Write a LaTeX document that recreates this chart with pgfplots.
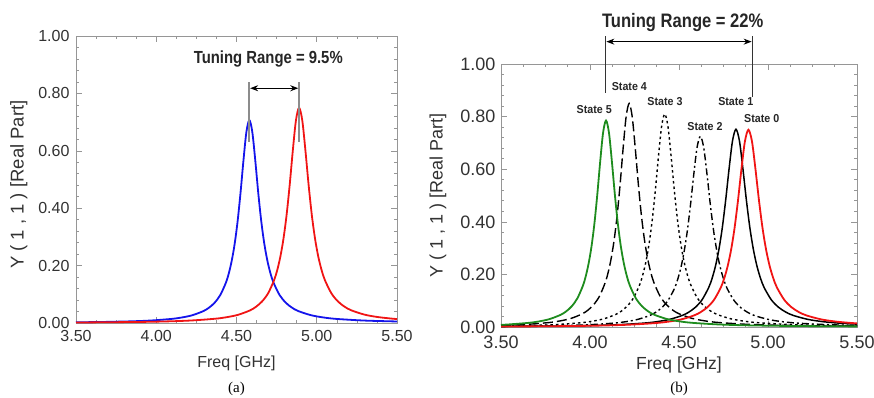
\documentclass[border=0pt]{standalone}
\usepackage{fontspec}
\setmainfont{Liberation Sans}
\newfontfamily\serifcap{Liberation Serif}
\usepackage{graphicx}
\usepackage{pgfplots}
\pgfplotsset{compat=1.18}
\usetikzlibrary{arrows.meta}
\definecolor{cblue}{RGB}{20,20,235}
\definecolor{cred}{RGB}{240,20,20}
\definecolor{cgreen}{RGB}{30,140,30}
\definecolor{framegray}{RGB}{150,150,150}
\definecolor{txtgray}{RGB}{50,50,50}
\tikzset{st/.style={font=\fontsize{11.5}{13}\selectfont\bfseries, text=black!85, inner sep=0pt}}
\pgfplotsset{
 base/.style={scale only axis, xmin=3.5, xmax=5.5, ymin=0, ymax=1,
  xtick={3.5,4,4.5,5,5.5}, ytick={0,0.2,0.4,0.6,0.8,1},
  minor x tick num=3, minor y tick num=4,
  tick align=inside, major tick length=6pt, minor tick length=3pt,
  axis line style={draw=framegray, line width=0.8pt},
  tick style={draw=framegray, line width=0.6pt},
  /pgf/number format/fixed, /pgf/number format/fixed zerofill,
  /pgf/number format/precision=2, /pgf/number format/assume math mode=true,
  ticklabel style={text=txtgray},
  label style={text=txtgray},
  clip=false,
 },
}
\begin{document}
\begin{tikzpicture}
\useasboundingbox (0,0) rectangle (874pt,397pt);
% ---------------- panel (a)
\begin{axis}[base, at={(76pt,74pt)}, anchor=south west, width=321pt, height=287pt,
  yticklabel style={font=\fontsize{16}{16}\selectfont, xshift=-3pt},
  xticklabel style={font=\fontsize{16}{16}\selectfont, yshift=-4pt},
  xlabel={Freq [GHz]}, ylabel={Y ( 1 , 1 ) [Real Part]},
  xlabel style={at={(axis description cs:0.5,0)}, anchor=center, yshift=-40pt, font=\fontsize{16}{16}\selectfont},
  ylabel style={at={(axis description cs:-0.178,0.482)}, anchor=center, font=\fontsize{18.5}{18.5}\selectfont},
]
\addplot[cblue, line width=1.8pt, smooth] coordinates {(3.5,0.0025)(3.6611,0.0036)(3.8390,0.0058)(3.9632,0.0086)(4.0920,0.0141)(4.1582,0.0191)(4.2255,0.0272)(4.2940,0.0416)(4.3287,0.0534)(4.3637,0.0707)(4.3990,0.0975)(4.4346,0.1414)(4.4525,0.1740)(4.4705,0.2175)(4.4886,0.2759)(4.5067,0.3535)(4.5249,0.4525)(4.5432,0.5656)(4.5616,0.6654)(4.58,0.707)(4.5985,0.6654)(4.6171,0.5656)(4.6357,0.4525)(4.6545,0.3535)(4.6733,0.2759)(4.6922,0.2175)(4.7111,0.1740)(4.7301,0.1414)(4.7684,0.0975)(4.8070,0.0707)(4.8458,0.0534)(4.8850,0.0416)(4.9642,0.0272)(5.0446,0.0191)(5.1262,0.0141)(5.2928,0.0086)(5.4641,0.0058)(5.5,0.0054)};
\addplot[cred, line width=1.8pt, smooth] coordinates {(3.5,0.0017)(3.9089,0.0038)(4.0988,0.0061)(4.2314,0.0092)(4.3690,0.015)(4.4396,0.0203)(4.5115,0.0288)(4.5847,0.0441)(4.6217,0.0566)(4.6591,0.075)(4.6968,0.1034)(4.7348,0.15)(4.7539,0.1846)(4.7731,0.2308)(4.7924,0.2927)(4.8118,0.375)(4.8312,0.48)(4.8507,0.6)(4.8703,0.7059)(4.89,0.75)(4.9098,0.7059)(4.9296,0.6)(4.9495,0.48)(4.9695,0.375)(4.9896,0.2927)(5.0097,0.2308)(5.0300,0.1846)(5.0503,0.15)(5.0912,0.1034)(5.1323,0.075)(5.1738,0.0566)(5.2157,0.0441)(5.3002,0.0288)(5.3861,0.0203)(5.4732,0.015)(5.5,0.0138)};
\draw[black!45, line width=1.8pt] (axis cs:4.58,0.632) -- (axis cs:4.58,0.841);
\draw[black!45, line width=1.8pt] (axis cs:4.89,0.632) -- (axis cs:4.89,0.841);
\draw[black, line width=1pt, {Stealth[length=8pt,width=6pt]}-{Stealth[length=8pt,width=6pt]}] (axis cs:4.585,0.818) -- (axis cs:4.885,0.818);
\node[font=\fontsize{17.5}{18}\selectfont\bfseries, text=black!85] at (axis cs:4.698,0.919) {\scalebox{0.85}[1]{Tuning Range = 9.5\%}};
\node[font=\serifcap\fontsize{15}{15}\selectfont] at (axis description cs:0.5,0) [yshift=-66pt] {(a)};
\end{axis}
% ---------------- panel (b)
\begin{axis}[base, at={(501pt,70pt)}, anchor=south west, width=356pt, height=263pt,
  yticklabel style={font=\fontsize{18}{18}\selectfont, xshift=-2pt},
  xticklabel style={font=\fontsize{18}{18}\selectfont, yshift=-5pt},
  xlabel={Freq [GHz]}, ylabel={Y ( 1 , 1 ) [Real Part]},
  xlabel style={at={(axis description cs:0.5,0)}, anchor=center, yshift=-38pt, font=\fontsize{17.5}{17.5}\selectfont},
  ylabel style={at={(axis description cs:-0.177,0.5)}, anchor=center, font=\fontsize{18}{18}\selectfont},
]
% State 4 (dashed)
\addplot[black, line width=1.4pt, smooth, dash pattern=on 10pt off 4pt] coordinates {(3.5,0.0062)(3.5372,0.0070)(3.6517,0.0104)(3.7704,0.017)(3.8313,0.023)(3.8934,0.0327)(3.9565,0.05)(3.9885,0.0642)(4.0207,0.085)(4.0533,0.1172)(4.0861,0.17)(4.1026,0.2092)(4.1191,0.2615)(4.1358,0.3317)(4.1525,0.425)(4.1693,0.544)(4.1861,0.68)(4.2030,0.8)(4.22,0.85)(4.2370,0.8)(4.2542,0.68)(4.2714,0.544)(4.2886,0.425)(4.3059,0.3317)(4.3233,0.2615)(4.3408,0.2092)(4.3583,0.17)(4.3936,0.1172)(4.4291,0.085)(4.4650,0.0642)(4.5010,0.05)(4.5740,0.0327)(4.6481,0.023)(4.7233,0.017)(4.8768,0.0104)(5.0346,0.0070)(5.2792,0.0043)(5.5,0.0031)};
% State 3 (dotted)
\addplot[black, line width=1.4pt, smooth, dash pattern=on 2.5pt off 3pt] coordinates {(3.5,0.0038)(3.5332,0.0041)(3.7048,0.0066)(3.8247,0.0099)(3.9491,0.0162)(4.0129,0.0219)(4.0779,0.0312)(4.1440,0.0476)(4.1775,0.0611)(4.2113,0.081)(4.2454,0.1117)(4.2797,0.162)(4.2970,0.1994)(4.3144,0.2492)(4.3318,0.3161)(4.3493,0.405)(4.3669,0.5184)(4.3845,0.648)(4.4022,0.7624)(4.42,0.81)(4.4379,0.7624)(4.4558,0.648)(4.4738,0.5184)(4.4919,0.405)(4.5100,0.3161)(4.5282,0.2492)(4.5465,0.1994)(4.5649,0.162)(4.6018,0.1117)(4.6390,0.081)(4.6766,0.0611)(4.7144,0.0476)(4.7908,0.0312)(4.8684,0.0219)(4.9471,0.0162)(5.1079,0.0099)(5.2732,0.0066)(5.5,0.0043)};
% State 2 (dash-dot)
\addplot[black, line width=1.4pt, smooth, dash pattern=on 7pt off 3pt on 2pt off 3pt] coordinates {(3.5,0.0024)(3.6931,0.0037)(3.8725,0.0059)(3.9978,0.0088)(4.1277,0.0145)(4.1945,0.0196)(4.2624,0.0279)(4.3315,0.0426)(4.3665,0.0547)(4.4019,0.0725)(4.4375,0.1)(4.4734,0.145)(4.4914,0.1785)(4.5096,0.2231)(4.5278,0.2829)(4.5461,0.3625)(4.5645,0.464)(4.5829,0.58)(4.6014,0.6824)(4.62,0.725)(4.6387,0.6824)(4.6574,0.58)(4.6762,0.464)(4.6951,0.3625)(4.7141,0.2829)(4.7331,0.2231)(4.7522,0.1785)(4.7714,0.145)(4.8101,0.1)(4.8490,0.0725)(4.8882,0.0547)(4.9277,0.0426)(5.0076,0.0279)(5.0887,0.0196)(5.1710,0.0145)(5.3391,0.0088)(5.5,0.0061)};
% State 1 (solid black)
\addplot[black, line width=1.5pt, smooth] coordinates {(3.5,0.0018)(3.8530,0.0038)(4.0401,0.0062)(4.1708,0.0092)(4.3064,0.015)(4.3761,0.0203)(4.4469,0.0289)(4.5191,0.0442)(4.5556,0.0568)(4.5924,0.0752)(4.6296,0.1037)(4.6670,0.1504)(4.6859,0.1851)(4.7048,0.2314)(4.7238,0.2935)(4.7429,0.376)(4.7620,0.4813)(4.7813,0.6016)(4.8006,0.7078)(4.82,0.752)(4.8395,0.7078)(4.8590,0.6016)(4.8787,0.4813)(4.8984,0.376)(4.9182,0.2935)(4.9380,0.2314)(4.9580,0.1851)(4.9780,0.1504)(5.0183,0.1037)(5.0589,0.0752)(5.0998,0.0568)(5.1410,0.0442)(5.2244,0.0289)(5.3090,0.0203)(5.3948,0.015)(5.5,0.011)};
% State 0 (red)
\addplot[cred, line width=1.8pt, smooth] coordinates {(3.5,0.0017)(3.9089,0.0038)(4.0988,0.0061)(4.2314,0.0092)(4.3690,0.015)(4.4396,0.0203)(4.5115,0.0288)(4.5847,0.0441)(4.6217,0.0566)(4.6591,0.075)(4.6968,0.1034)(4.7348,0.15)(4.7539,0.1846)(4.7731,0.2308)(4.7924,0.2927)(4.8118,0.375)(4.8312,0.48)(4.8507,0.6)(4.8703,0.7059)(4.89,0.75)(4.9098,0.7059)(4.9296,0.6)(4.9495,0.48)(4.9695,0.375)(4.9896,0.2927)(5.0097,0.2308)(5.0300,0.1846)(5.0503,0.15)(5.0912,0.1034)(5.1323,0.075)(5.1738,0.0566)(5.2157,0.0441)(5.3002,0.0288)(5.3861,0.0203)(5.4732,0.015)(5.5,0.0138)};
% State 5 (green)
\addplot[cgreen, line width=1.8pt, smooth] coordinates {(3.5,0.0083)(3.5392,0.0096)(3.6542,0.0157)(3.7133,0.0212)(3.7734,0.0302)(3.8346,0.0462)(3.8656,0.0592)(3.8969,0.0785)(3.9284,0.1083)(3.9602,0.157)(3.9762,0.1932)(3.9922,0.2415)(4.0084,0.3063)(4.0246,0.3925)(4.0408,0.5024)(4.0571,0.628)(4.0735,0.7388)(4.09,0.785)(4.1065,0.7388)(4.1231,0.628)(4.1398,0.5024)(4.1565,0.3925)(4.1733,0.3063)(4.1902,0.2415)(4.2071,0.1932)(4.2241,0.157)(4.2582,0.1083)(4.2927,0.0785)(4.3274,0.0592)(4.3624,0.0462)(4.4331,0.0302)(4.5049,0.0212)(4.5778,0.0157)(4.7266,0.0096)(4.8795,0.0064)(5.1165,0.0040)(5.5,0.0023)};
\node[st] at (axis cs:4.024,0.828) {\scalebox{0.93}[1]{State 5}};
\node[st] at (axis cs:4.221,0.914) {\scalebox{0.93}[1]{State 4}};
\node[st] at (axis cs:4.421,0.859) {\scalebox{0.93}[1]{State 3}};
\node[st] at (axis cs:4.646,0.764) {\scalebox{0.93}[1]{State 2}};
\node[st] at (axis cs:4.819,0.857) {\scalebox{0.93}[1]{State 1}};
\node[st] at (axis cs:4.965,0.791) {\scalebox{0.93}[1]{State 0}};
\draw[black!80, line width=1pt] (axis cs:4.088,0.890) -- (axis cs:4.088,1.106);
\draw[black!80, line width=1pt] (axis cs:4.912,0.875) -- (axis cs:4.912,1.106);
\draw[black, line width=1pt, {Stealth[length=8pt,width=6pt]}-{Stealth[length=8pt,width=6pt]}] (axis cs:4.092,1.085) -- (axis cs:4.908,1.085);
\node[font=\fontsize{19.5}{20}\selectfont\bfseries, text=black!85] at (axis cs:4.521,1.158) {\scalebox{0.85}[1]{Tuning Range = 22\%}};
\node[font=\serifcap\fontsize{15}{15}\selectfont] at (axis description cs:0.5,0) [yshift=-62pt] {(b)};
\end{axis}
\end{tikzpicture}
\end{document}
